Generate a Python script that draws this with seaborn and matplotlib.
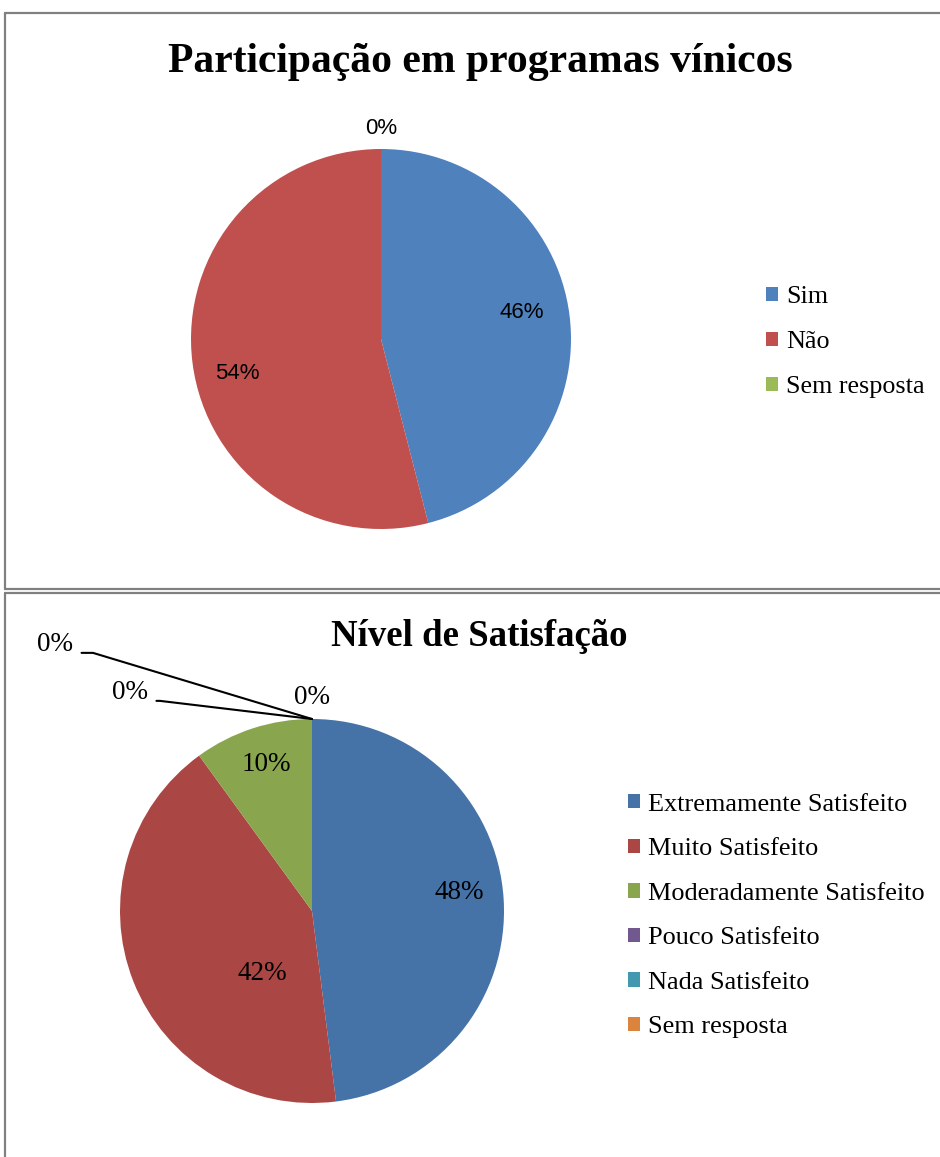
import matplotlib
matplotlib.use("Agg")
import matplotlib.pyplot as plt
import seaborn as sns
from matplotlib.lines import Line2D
import numpy as np

# data
part_labels = ["Sim", "Não", "Sem resposta"]
part_values = [46, 54, 0]
part_colors = ["#4F81BD", "#C0504D", "#9BBB59"]

sat_labels = ["Extremamente Satisfeito", "Muito Satisfeito", "Moderadamente Satisfeito",
              "Pouco Satisfeito", "Nada Satisfeito", "Sem resposta"]
sat_values = [48, 42, 10, 0, 0, 0]
sat_colors = ["#4572A7", "#AA4643", "#89A54E", "#71588F", "#4198AF", "#DB843D"]

# label placement (radius units, pie centre at origin)
part_label_pos = [(0.742, 0.140), (-0.758, -0.180), (0.0, 1.11)]
sat_label_pos = [(0.766, 0.095), (-0.26, -0.325), (-0.24, 0.765),
                 (0.0, 1.11), (-0.95, 1.14), (-1.34, 1.39)]
# corner of the leader line (None = no leader)
sat_leader_corner = [None, None, None, None, (-0.792, 1.094), (-1.156, 1.349)]

sns.set_theme(style="white")
plt.rcParams["font.family"] = ["Liberation Serif", "DejaVu Serif"]
plt.rcParams["text.color"] = "black"

W, H = 940, 1157
fig = plt.figure(figsize=(W / 100, H / 100), dpi=100)


def fx(px):
    return px / W


def fy(py):
    return 1 - py / H


def pie_axes(cx, cy, r):
    return fig.add_axes([fx(cx - r), fy(cy + r), 2 * r / W, 2 * r / H])


# panel borders
border = dict(color="#808080", lw=1.6, solid_capstyle="butt")
fig.add_artist(Line2D([fx(4), 1], [fy(13), fy(13)], **border))
fig.add_artist(Line2D([fx(5), fx(5)], [fy(13), fy(589)], **border))
fig.add_artist(Line2D([fx(4), 1], [fy(589), fy(589)], **border))
fig.add_artist(Line2D([fx(4), 1], [fy(593), fy(593)], **border))
fig.add_artist(Line2D([fx(5), fx(5)], [fy(593), 0], **border))

# ---- top chart ----
ax1 = pie_axes(381, 339, 190)
wedges1, _, auto1 = ax1.pie(part_values, colors=part_colors, startangle=90, counterclock=False,
                            autopct=lambda p: f"{p:.0f}%",
                            wedgeprops=dict(linewidth=0),
                            textprops=dict(family=["Liberation Sans", "DejaVu Sans"], fontsize=16,
                                           color="black"))
for t, pos in zip(auto1, part_label_pos):
    t.set_position(pos)
ax1.set_xlim(-1, 1)
ax1.set_ylim(-1, 1)
ax1.axis("off")
fig.text(fx(480), fy(62), "Participação em programas vínicos",
         ha="center", va="center", fontsize=30, fontweight="bold")
fig.legend(wedges1, part_labels, loc="center left", bbox_to_anchor=(fx(766), fy(342)),
           frameon=False, fontsize=18.8, handlelength=0.47, handleheight=0.47,
           handletextpad=0.3, labelspacing=0.88, borderpad=0, borderaxespad=0)

# ---- bottom chart ----
ax2 = pie_axes(312, 911, 192)
wedges2, _, auto2 = ax2.pie(sat_values, colors=sat_colors, startangle=90, counterclock=False,
                            autopct=lambda p: f"{p:.0f}%",
                            wedgeprops=dict(linewidth=0),
                            textprops=dict(fontsize=19.5, color="black"))
for w, t, pos, corner in zip(wedges2, auto2, sat_label_pos, sat_leader_corner):
    t.set_position(pos)
    if corner is None:
        continue
    a = np.deg2rad(w.theta1)
    tip = (np.cos(a), np.sin(a))
    angB = np.degrees(np.arctan2(tip[1] - corner[1], tip[0] - corner[0]))
    t.set_visible(False)
    ax2.annotate(t.get_text(), xy=tip, xytext=pos, ha="center", va="center", fontsize=19.5,
                 arrowprops=dict(arrowstyle="-", color="black", lw=1.5, shrinkA=4, shrinkB=0,
                                 relpos=(1.0, 0.15),
                                 connectionstyle=f"angle,angleA=0,angleB={angB:.1f},rad=0"))
ax2.set_xlim(-1, 1)
ax2.set_ylim(-1, 1)
ax2.axis("off")
fig.text(fx(479), fy(636), "Nível de Satisfação",
         ha="center", va="center", fontsize=26.5, fontweight="bold")
fig.legend(wedges2, sat_labels, loc="center left", bbox_to_anchor=(fx(628), fy(916)),
           frameon=False, fontsize=18.9, handlelength=0.47, handleheight=0.47,
           handletextpad=0.3, labelspacing=0.86, borderpad=0, borderaxespad=0)

fig.savefig("out.png", dpi=100)
